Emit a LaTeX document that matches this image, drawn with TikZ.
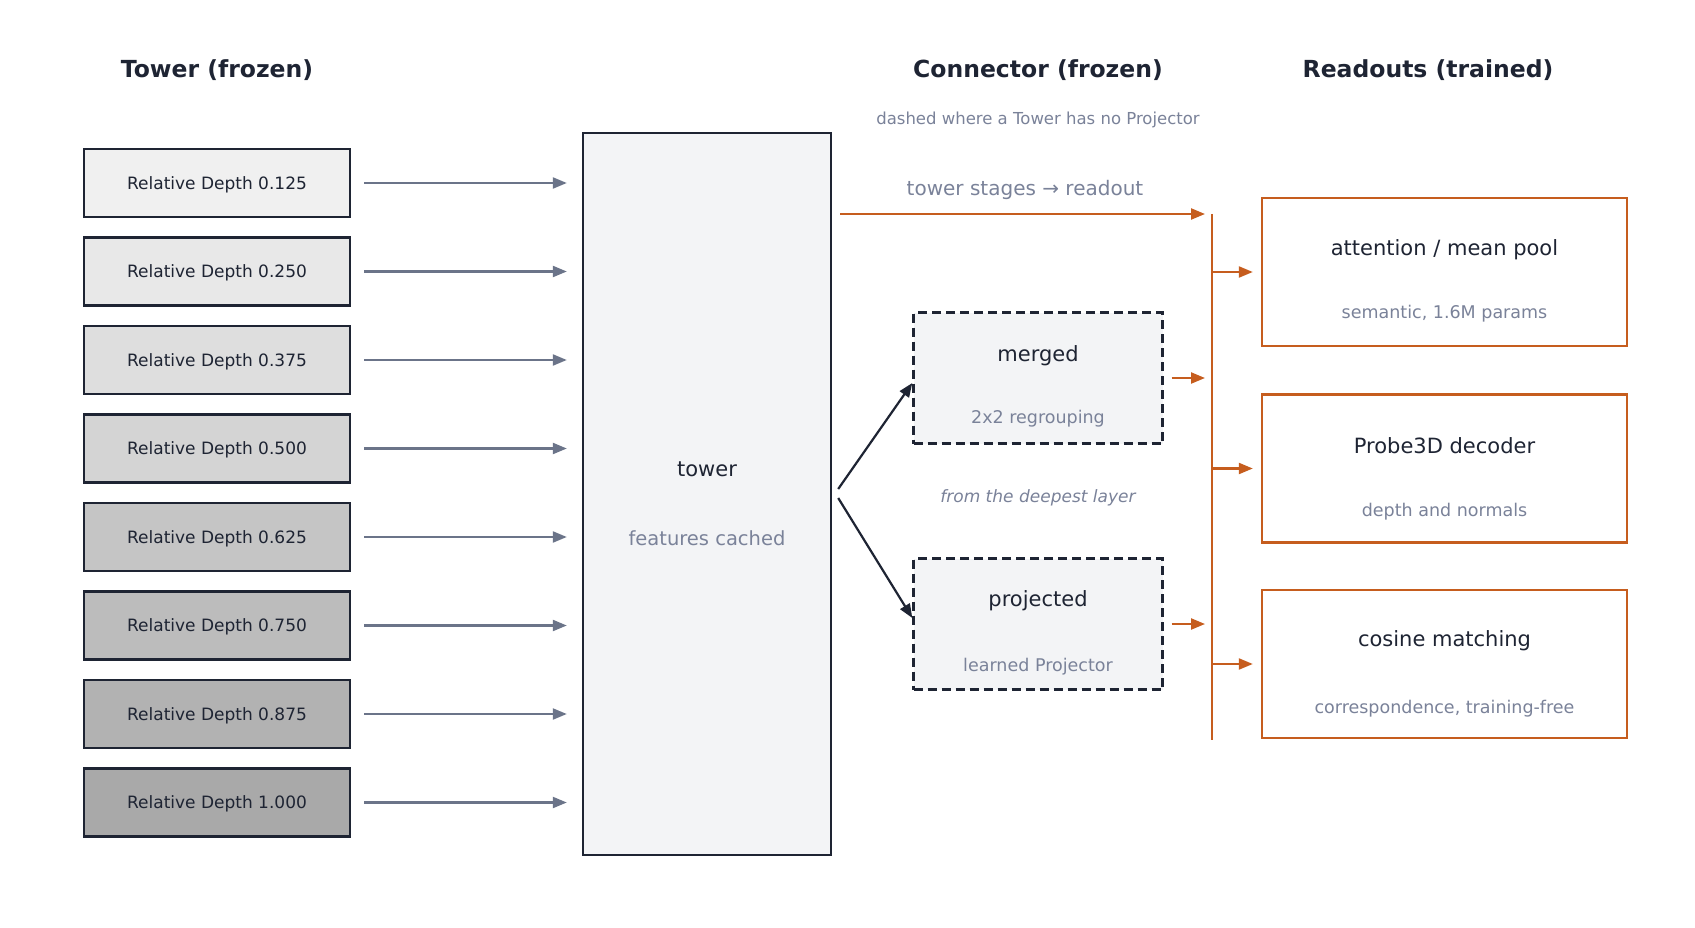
\documentclass[tikz,border=0pt]{standalone}
\usepackage{fontspec}
\setmainfont{DejaVu Sans}
\usetikzlibrary{arrows.meta}
\definecolor{ink}{HTML}{1E2433}
\definecolor{slate}{HTML}{6B7489}
\definecolor{mute}{HTML}{7A8299}
\definecolor{rust}{HTML}{C65D1E}
\definecolor{panel}{HTML}{F3F4F6}
\definecolor{dA}{HTML}{F0F0F0}
\definecolor{dB}{HTML}{E8E8E8}
\definecolor{dC}{HTML}{DEDEDE}
\definecolor{dD}{HTML}{D4D4D4}
\definecolor{dE}{HTML}{C5C5C5}
\definecolor{dF}{HTML}{BCBCBC}
\definecolor{dG}{HTML}{B2B2B2}
\definecolor{dH}{HTML}{A9A9A9}
\tikzset{
  txt/.style={yshift=-2pt},
  coltitle/.style={txt, text=ink, font=\fontsize{23.5}{26}\selectfont\bfseries},
  depthbox/.style={draw=ink, line width=2.4pt, minimum width=266pt, minimum height=68pt, inner sep=0pt, text depth=0pt, text=ink, font=\fontsize{17}{20}\selectfont},
  garrow/.style={draw=slate, line width=2.2pt, -{Triangle[length=14pt,width=11pt]}},
  darrow/.style={draw=ink, line width=2.2pt, -{Triangle[length=14pt,width=11pt]}},
  oarrow/.style={draw=rust, line width=2.2pt, -{Triangle[length=14pt,width=11pt]}},
  mainlbl/.style={txt, text=ink, font=\fontsize{21}{24}\selectfont},
  sublbl/.style={txt, text=mute, font=\fontsize{17.5}{20}\selectfont},
  dashbox/.style={draw=ink, line width=2.4pt, dash pattern=on 9pt off 5pt, fill=panel, minimum width=249pt, minimum height=131pt, inner sep=0pt},
  readbox/.style={draw=rust, line width=2.4pt, fill=white, minimum width=365pt, minimum height=148pt, inner sep=0pt},
}
\begin{document}
\begin{tikzpicture}[x=1pt,y=-1pt]
\fill[white] (0,0) rectangle (1695,928);
\useasboundingbox (0,0) rectangle (1695,928);

% column titles
\node[coltitle] (t1) at (217,68) {Tower (frozen)};
\node[coltitle] (t2) at (1038,68) {Connector (frozen)};
\node[coltitle] (t3) at (1428,68) {Readouts (trained)};
\node[txt, text=mute, font=\fontsize{16.5}{19}\selectfont] (note) at (1038,118) {dashed where a Tower has no Projector};

% depth boxes
\node[depthbox, fill=dA] (d1) at (217,183) {Relative Depth 0.125};
\node[depthbox, fill=dB] (d2) at (217,271.5) {Relative Depth 0.250};
\node[depthbox, fill=dC] (d3) at (217,360) {Relative Depth 0.375};
\node[depthbox, fill=dD] (d4) at (217,448.5) {Relative Depth 0.500};
\node[depthbox, fill=dE] (d5) at (217,537) {Relative Depth 0.625};
\node[depthbox, fill=dF] (d6) at (217,625.5) {Relative Depth 0.750};
\node[depthbox, fill=dG] (d7) at (217,714) {Relative Depth 0.875};
\node[depthbox, fill=dH] (d8) at (217,802.5) {Relative Depth 1.000};

% tower
\node[draw=ink, line width=2.4pt, fill=panel, minimum width=248pt, minimum height=722pt, inner sep=0pt] (tower) at (707,494) {};
\node[mainlbl] (towerlbl) at (707,467) {tower};
\node[txt, text=mute, font=\fontsize{19.5}{22}\selectfont] (towersub) at (707,536) {features cached};

\foreach \i in {1,...,8}{
  \draw[garrow, shorten <=13pt, shorten >=15pt] (d\i.east) -- (d\i.east -| tower.west);
}

% connector boxes
\node[dashbox] (merged) at (1038,378) {};
\node[mainlbl] (mergedlbl) at (1038,353.5) {merged};
\node[sublbl] (mergedsub) at (1038,417) {2x2 regrouping};
\node[dashbox] (proj) at (1038,624) {};
\node[mainlbl] (projlbl) at (1038,599) {projected};
\node[sublbl] (projsub) at (1038,665) {learned Projector};
\node[txt, text=mute, font=\fontsize{17}{20}\selectfont\itshape] (deep) at (1038,496) {from the deepest layer};

\draw[darrow] ([xshift=6pt,yshift=5pt]tower.east) -- ([yshift=-5pt]merged.west);
\draw[darrow] ([xshift=6pt,yshift=-4pt]tower.east) -- ([yshift=6pt]proj.west);

% bus
\coordinate (bt) at (1212,214);
\coordinate (bb) at (1212,740);
\draw[rust, line width=2.2pt] (bt) -- (bb);
\draw[oarrow, shorten <=8pt, shorten >=7pt] (tower.east |- bt) -- (bt);
\node[txt, text=mute, font=\fontsize{20}{23}\selectfont] (stages) at (1025,188) {tower stages → readout};
\draw[oarrow, shorten <=8pt, shorten >=7pt] (merged.east) -- (merged.east -| bt);
\draw[oarrow, shorten <=8pt, shorten >=7pt] (proj.east) -- (proj.east -| bt);

% readouts
\node[readbox] (r1) at (1444.5,272) {};
\node[mainlbl] (r1lbl) at (1444.5,247.5) {attention / mean pool};
\node[sublbl] (r1sub) at (1444.5,312) {semantic, 1.6M params};
\node[readbox] (r2) at (1444.5,468.5) {};
\node[mainlbl] (r2lbl) at (1444.5,444) {Probe3D decoder};
\node[sublbl] (r2sub) at (1444.5,510) {depth and normals};
\node[readbox] (r3) at (1444.5,664) {};
\node[mainlbl] (r3lbl) at (1444.5,639) {cosine matching};
\node[sublbl] (r3sub) at (1444.5,707) {correspondence, training-free};

\foreach \r in {r1,r2,r3}{
  \draw[oarrow, shorten >=8pt] (\r.west -| bt) -- (\r.west);
}
\end{tikzpicture}
\end{document}
